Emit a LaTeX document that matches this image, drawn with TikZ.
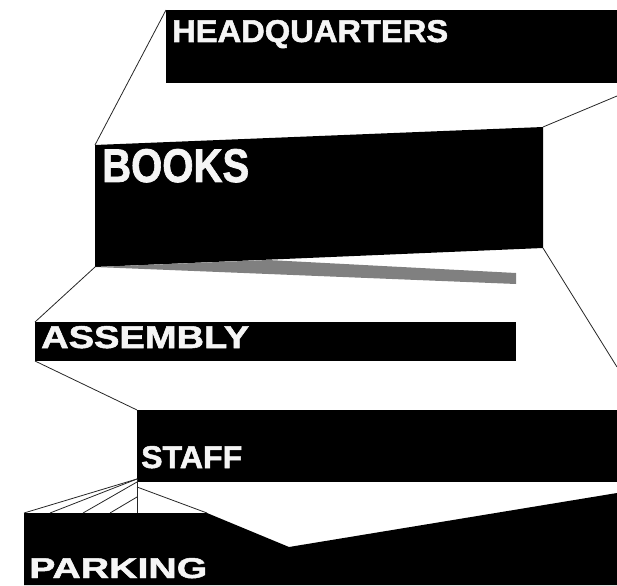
\documentclass[tikz,border=0pt]{standalone}
\usepackage{fontspec}
\setmainfont{Liberation Sans}
\newfontfamily\heavyfont{Liberation Sans}[BoldFeatures={FakeBold=1.6}]
\usepackage{graphicx}
\begin{document}
\begin{tikzpicture}[x=1pt,y=-1pt,
  block/.style={fill=black},
  wedge/.style={fill=black!50},
  link/.style={draw=black!85,line width=0.8pt},
  lbl/.style={inner sep=0pt,anchor=base west,text=white!96!black,font=\heavyfont\bfseries}]
\useasboundingbox (0,0) rectangle (617,585);
% coordinates
\coordinate (hqTL) at (166,10);
\coordinate (bkTL) at (95,145);
\coordinate (bkTR) at (543,127);
\coordinate (bkBR) at (543,248);
\coordinate (bkBL) at (95,267);
\coordinate (e1) at (617,96);
\coordinate (e2) at (617,367);
\coordinate (asTL) at (35,322);
\coordinate (asBL) at (35,361);
\coordinate (stTL) at (137,410);
\coordinate (stBL) at (137,482);
\coordinate (pkTL) at (24,513);
\coordinate (pkTM) at (207,513);
\coordinate (pkV) at (289,547);
\coordinate (pkR) at (617,493);
% blocks
\fill[block] (hqTL) rectangle (617,83);
\fill[block] (bkTL) -- (bkTR) -- (bkBR) -- (bkBL) -- cycle;
\fill[wedge] (bkBL) -- (268,260) -- (516,273) -- (516,284) -- cycle;
\fill[block] (asTL) rectangle (516,361);
\fill[block] (stTL) rectangle (617,482);
\fill[block] (pkTL) -- (pkTM) -- (pkV) -- (pkR) -- (617,585) -- (24,585) -- cycle;
% connectors
\draw[link] (hqTL) -- (bkTL);
\draw[link] (bkTR) -- (e1);
\draw[link] (bkBR) -- (e2);
\draw[link] (bkBL) -- (asTL);
\draw[link] (asBL) -- (stTL);
\coordinate (f0) at (137,479);
\coordinate (f1) at (137,482);
\coordinate (f2) at (137,487);
\coordinate (f3) at (137,497);
\draw[link] (f0) -- (137,513);
\draw[link] (f0) -- (pkTL);
\draw[link] (f0) -- (50,513);
\draw[link] (f1) -- (83,513);
\draw[link] (f3) -- (110,513);
\draw[link] (f2) -- (pkTM);
% labels
\node[lbl] (hq) at (172,42) {\resizebox{276pt}{22pt}{HEADQUARTERS}};
\node[lbl] (bk) at (102,182) {\resizebox{147pt}{33pt}{BOOKS}};
\node[lbl] (as) at (41,348) {\resizebox{208pt}{22pt}{ASSEMBLY}};
\node[lbl] (st) at (141,468) {\resizebox{101pt}{22pt}{STAFF}};
\node[lbl] (pk) at (29,578) {\resizebox{178pt}{20pt}{PARKING}};
\end{tikzpicture}
\end{document}
